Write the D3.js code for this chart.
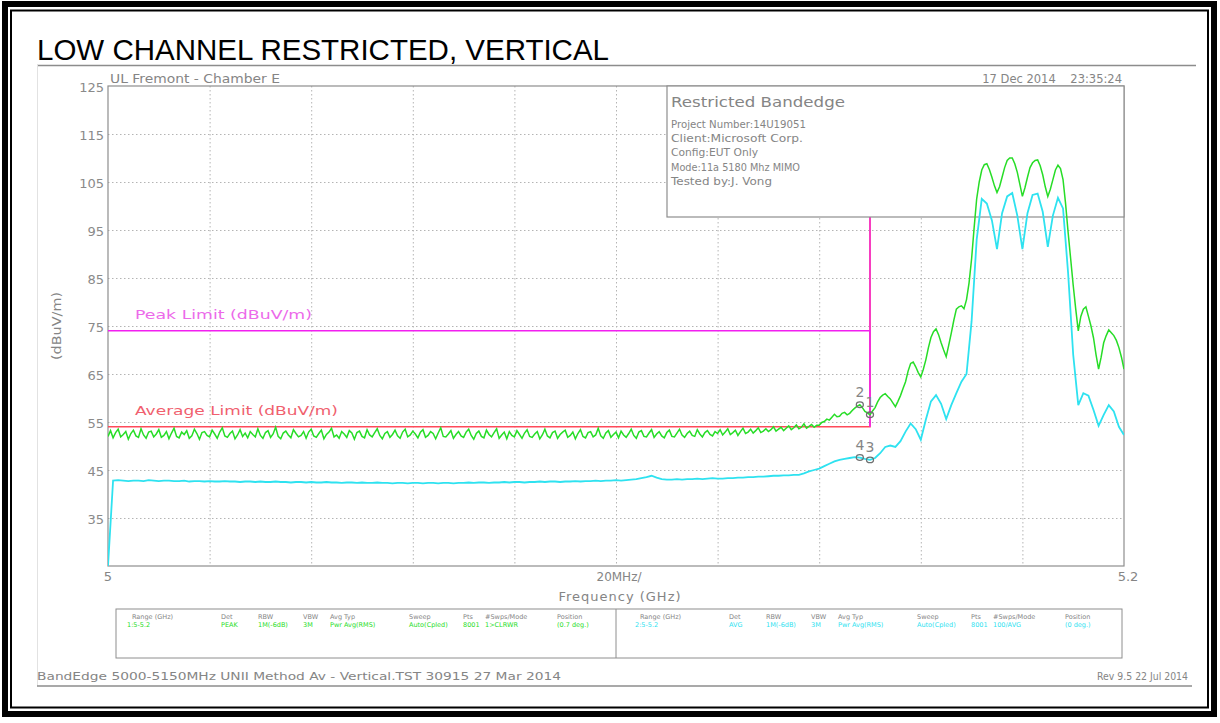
<!DOCTYPE html>
<html lang="en">
<head>
<meta charset="UTF-8" />
<title>Low Channel Restricted, Vertical</title>
<script src="https://cdn.jsdelivr.net/npm/d3@7"></script>
<style>
  body { margin: 0; background: #fff; }
  svg { display: block; }
  .sa { font-family: "DejaVu Sans", sans-serif; fill: #858585; }
  .grid line { stroke: #b4b4b4; stroke-dasharray: 1.5 2.5; }
  .grid path { display: none; }
  .ylab path, .ylab line { display: none; }
  .ylab text { font-family: "DejaVu Sans", sans-serif; font-size: 13px; fill: #8a8a8a; }
</style>
</head>
<body>
<div id="chart"></div>
<script>
// sweep: 5.000 - 5.200 GHz
const startMHz = 5000;
const stopMHz = 5200;
const peakStepMHz = 0.5;
const avgStepMHz = 1;

const yTicks = [125, 115, 105, 95, 85, 75, 65, 55, 45, 35];
const xGridMHz = [5020, 5040, 5060, 5080, 5100, 5120, 5140, 5160, 5180];
const xEndLabels = ["5", "5.2"];
const divLabel = "20MHz/";

const peakLimit = 74;
const avgLimit = 54;
const bandEdgeMHz = 5150;

// trace 1 (peak detector, green), one reading per 0.5 MHz
const peakTrace = [
  52.0, 53.2, 51.7, 52.8, 53.5, 51.9, 52.4, 53.0, 51.4, 52.6, 53.3, 52.1, 51.8, 53.6, 52.3, 51.6, 52.9, 53.1, 51.9, 52.5,
  53.4, 51.8, 52.2, 53.0, 51.5, 52.7, 53.7, 52.0, 51.7, 52.9, 52.4, 53.2, 51.6, 52.1, 53.5, 52.6, 51.4, 52.8, 53.0, 52.2,
  51.9, 53.3, 52.5, 51.6, 52.9, 53.8, 52.1, 51.8, 52.6, 53.1, 51.5, 52.3, 53.4, 52.0, 52.7, 51.7, 53.0, 52.4, 51.9, 53.6,
  52.2, 51.6, 52.8, 53.2, 51.8, 52.5, 53.9, 52.0, 51.5, 52.7, 53.1, 52.3, 51.7, 53.4, 52.6, 51.9, 52.2, 53.0, 51.6, 52.9,
  53.5, 52.1, 51.8, 52.6, 53.3, 51.5, 52.4, 52.9, 53.7, 51.9, 52.3, 51.6, 53.0, 52.5, 51.8, 53.2, 52.7, 51.4, 52.8, 53.1,
  52.0, 51.7, 53.4, 52.3, 51.9, 52.8, 53.6, 52.2, 51.5, 52.6, 53.0, 51.8, 52.4, 53.3, 52.1, 51.6, 52.9, 53.5, 51.9, 52.3,
  53.1, 52.5, 51.7, 52.9, 53.4, 51.8, 52.2, 53.0, 52.6, 51.5, 52.7, 53.8, 52.0, 51.9, 52.5, 53.2, 51.6, 52.4, 53.0, 52.1,
  51.8, 52.9, 53.5, 52.2, 51.4, 52.6, 53.1, 52.0, 51.7, 53.3, 52.4, 51.9, 52.8, 53.6, 51.6, 52.3, 52.9, 51.5, 53.0, 52.2,
  51.9, 53.2, 52.4, 51.6, 52.7, 53.4, 52.0, 51.8, 52.5, 53.0, 51.5, 52.3, 53.5, 52.1, 51.7, 52.8, 53.1, 51.6, 52.4, 52.9,
  53.3, 51.8, 52.2, 52.9, 51.5, 52.6, 53.4, 52.0, 51.7, 52.8, 53.0, 51.9, 52.3, 53.7, 52.1, 51.6, 52.7, 53.2, 51.8, 52.4,
  52.9, 51.7, 53.1, 52.3, 51.8, 52.6, 53.5, 52.2, 51.6, 52.9, 53.2, 52.0, 51.9, 52.7, 53.4, 51.8, 52.5, 53.0, 52.1, 51.7,
  52.8, 53.3, 52.0, 51.9, 52.7, 53.5, 52.3, 51.8, 52.6, 53.1, 52.2, 52.0, 53.4, 52.5, 51.9, 52.8, 53.2, 52.4, 52.1, 53.0,
  52.6, 53.4, 52.3, 52.9, 53.6, 52.4, 52.8, 53.3, 52.2, 53.0, 53.7, 52.6, 52.9, 53.5, 52.7, 53.2, 53.8, 52.8, 53.1, 53.6,
  53.0, 53.4, 54.0, 53.1, 53.5, 53.9, 53.2, 53.7, 54.2, 53.4, 53.8, 54.4, 53.6, 53.9, 54.6, 53.7, 54.1, 54.5, 53.9, 54.3,
  54.3, 54.9, 55.1, 55.6, 55.4, 56.0, 56.6, 56.1, 56.2, 56.8, 57.0, 56.5, 56.8, 57.4, 57.9, 58.3, 58.6, 58.0, 57.2, 56.9,
  56.5, 57.3, 58.0, 59.2, 60.1, 60.6, 60.9, 60.3, 59.8, 59.0, 58.2, 59.3, 60.5, 62.0, 63.4, 65.6, 67.2, 67.5, 66.5, 65.3,
  64.4, 66.0, 68.0, 70.5, 72.6, 73.8, 74.4, 73.2, 71.5, 70.0, 68.6, 71.0, 73.5, 76.2, 78.5, 79.0, 79.2, 78.6, 80.5, 84.0,
  89.0, 95.5, 101.5, 105.0, 107.5, 108.6, 108.8, 107.6, 106.0, 104.2, 102.8, 104.0, 106.0, 108.0, 109.5, 110.0, 110.0, 108.8, 107.0, 104.5,
  102.0, 103.8, 106.0, 108.0, 109.0, 109.5, 109.6, 108.4, 106.5, 104.0, 102.0, 103.5, 105.5, 107.5, 108.5, 107.8, 105.5, 100.5, 94.5, 89.0,
  83.5, 78.5, 74.0, 77.0, 78.5, 79.0, 77.0, 75.0, 72.5, 69.0, 66.0, 68.5, 71.5, 73.0, 74.2, 73.6, 73.0, 72.0, 70.5, 68.5,
  66.0
];

// trace 2 (average detector, cyan), one reading per MHz
const avgTrace = [
  25.0, 42.8, 42.9, 42.8, 42.7, 42.8, 42.8, 42.7, 42.9, 42.8,
  42.7, 42.8, 42.8, 42.7, 42.7, 42.8, 42.6, 42.7, 42.7, 42.6,
  42.7, 42.6, 42.6, 42.7, 42.6, 42.6, 42.5, 42.6, 42.6, 42.5,
  42.6, 42.5, 42.5, 42.6, 42.5, 42.5, 42.4, 42.5, 42.5, 42.4,
  42.5, 42.4, 42.4, 42.5, 42.4, 42.4, 42.3, 42.4, 42.4, 42.3,
  42.4, 42.3, 42.3, 42.4, 42.3, 42.3, 42.2, 42.3, 42.3, 42.2,
  42.3, 42.3, 42.2, 42.3, 42.3, 42.2, 42.3, 42.3, 42.2, 42.3,
  42.3, 42.4, 42.3, 42.4, 42.4, 42.3, 42.4, 42.4, 42.5, 42.4,
  42.5, 42.5, 42.4, 42.5, 42.5, 42.6, 42.5, 42.6, 42.6, 42.5,
  42.6, 42.6, 42.7, 42.6, 42.7, 42.7, 42.8, 42.7, 42.8, 42.8,
  42.9, 42.8, 42.9, 43.0, 43.1, 43.3, 43.5, 43.8, 43.4, 43.1,
  43.0, 43.0, 43.1, 43.0, 43.1, 43.1, 43.2, 43.1, 43.2, 43.3,
  43.2, 43.2, 43.3, 43.3, 43.4, 43.4, 43.5, 43.5, 43.6, 43.6,
  43.7, 43.8, 43.8, 43.9, 43.9, 44.0, 44.0, 44.3, 44.7, 45.0,
  45.3, 45.8, 46.3, 46.8, 47.1, 47.3, 47.5, 47.7, 47.6, 47.3,
  47.1, 47.5, 48.5, 49.8, 50.1, 49.8, 51.0, 53.0, 54.7, 53.5,
  51.3, 55.5, 59.3, 60.6, 58.8, 55.6, 58.5, 61.0, 63.4, 65.0,
  76.0, 93.0, 101.5, 100.5, 97.0, 91.0, 98.5, 102.0, 102.7, 98.0,
  91.0, 98.5, 102.3, 102.6, 98.8, 91.5, 98.0, 101.7, 99.5, 86.0,
  69.0, 58.5, 61.0, 60.5, 57.5, 54.2, 56.5, 58.5, 57.2, 54.0,
  52.3
];

const markers = [
  { label: "1", mhz: 5150, trace: "peak" },
  { label: "2", mhz: 5148, trace: "peak" },
  { label: "3", mhz: 5150, trace: "avg" },
  { label: "4", mhz: 5148, trace: "avg" }
];

const infoTitle = "Restricted Bandedge";
const infoLines = [
  "Project Number:14U19051",
  "Client:Microsoft Corp.",
  "Config:EUT Only",
  "Mode:11a 5180 Mhz MIMO",
  "Tested by:J. Vong"
];

const tableHead = ["Range (GHz)", "Det", "RBW", "VBW", "Avg Typ", "Sweep", "Pts", "#Swps/Mode", "Position"];
const tableTrace1 = ["1:5-5.2", "PEAK", "1M(-6dB)", "3M", "Pwr Avg(RMS)", "Auto(Cpled)", "8001", "1>CLRWR", "(0.7 deg.)"];
const tableTrace2 = ["2:5-5.2", "AVG", "1M(-6dB)", "3M", "Pwr Avg(RMS)", "Auto(Cpled)", "8001", "100/AVG", "(0 deg.)"];

// ---------------------------------------------------------------
const W = 1220, H = 723;
const plot = { left: 108, right: 1124, top: 86, bottom: 566 };
const green = "#27dd27", cyan = "#2ee2f0", magenta = "#f21ff0", red = "#ff4a5a";

const svg = d3.select("#chart").append("svg")
  .attr("width", W).attr("height", H);

// double frame
svg.append("rect").attr("x", 5).attr("y", 4).attr("width", 1209).attr("height", 710)
  .attr("fill", "none").attr("stroke", "#000").attr("stroke-width", 6);
svg.append("rect").attr("x", 11).attr("y", 10.5).attr("width", 1197).attr("height", 697)
  .attr("fill", "none").attr("stroke", "#000").attr("stroke-width", 2);

svg.append("text")
  .attr("x", 37).attr("y", 60)
  .attr("textLength", 572).attr("lengthAdjust", "spacingAndGlyphs")
  .style("font-family", "'Liberation Sans', Arial, sans-serif")
  .style("font-size", "30px").attr("fill", "#000")
  .text("LOW CHANNEL RESTRICTED, VERTICAL");

// screenshot edges
svg.append("line").attr("x1", 37).attr("x2", 1196).attr("y1", 65.5).attr("y2", 65.5)
  .attr("stroke", "#8c8c8c").attr("stroke-width", 1.5);
svg.append("line").attr("x1", 37.5).attr("x2", 37.5).attr("y1", 65).attr("y2", 686)
  .attr("stroke", "#e2e2e2");
svg.append("line").attr("x1", 37).attr("x2", 1192).attr("y1", 686).attr("y2", 686)
  .attr("stroke", "#8c8c8c").attr("stroke-width", 1.5);

const x = d3.scaleLinear().domain([startMHz, stopMHz]).range([plot.left, plot.right]);
const y = d3.scaleLinear().domain([25, 125]).range([plot.bottom, plot.top]);
const plotW = plot.right - plot.left, plotH = plot.bottom - plot.top;

// graticule
svg.append("g").attr("class", "grid")
  .attr("transform", `translate(${plot.left},0)`)
  .call(d3.axisLeft(y).tickValues(yTicks.slice(1)).tickSize(-plotW).tickFormat(""));
svg.append("g").attr("class", "grid")
  .attr("transform", `translate(0,${plot.top})`)
  .call(d3.axisBottom(x).tickValues(xGridMHz).tickSize(plotH).tickFormat(""));

svg.append("rect")
  .attr("x", plot.left).attr("y", plot.top).attr("width", plotW).attr("height", plotH)
  .attr("fill", "none").attr("stroke", "#8e8e8e").attr("stroke-width", 1.2);

// y labels
const ylab = svg.append("g").attr("class", "ylab")
  .attr("transform", `translate(${plot.left},0)`)
  .call(d3.axisLeft(y).tickValues(yTicks).tickSize(0).tickPadding(4).tickFormat(d3.format("d")));
ylab.selectAll("text").attr("dy", "0.45em");

svg.append("text").attr("class", "sa")
  .attr("transform", `translate(61,326) rotate(-90)`)
  .attr("text-anchor", "middle").attr("textLength", 68).attr("lengthAdjust", "spacingAndGlyphs")
  .style("font-size", "11.5px")
  .text("(dBuV/m)");

svg.append("text").attr("class", "sa").attr("x", 110).attr("y", 83)
  .attr("textLength", 170).attr("lengthAdjust", "spacingAndGlyphs")
  .style("font-size", "11.5px").text("UL Fremont - Chamber E");
svg.append("text").attr("class", "sa").attr("x", 1122).attr("y", 83)
  .attr("text-anchor", "end").style("font-size", "11.5px").style("white-space", "pre")
  .text("17 Dec 2014    23:35:24");

// x labels
svg.append("text").attr("class", "sa").attr("x", x(startMHz)).attr("y", 581)
  .attr("text-anchor", "middle").style("font-size", "13px").text(xEndLabels[0]);
svg.append("text").attr("class", "sa").attr("x", x(stopMHz) + 4).attr("y", 581)
  .attr("text-anchor", "middle").style("font-size", "13px").text(xEndLabels[1]);
svg.append("text").attr("class", "sa").attr("x", x((startMHz + stopMHz) / 2) + 3).attr("y", 581)
  .attr("text-anchor", "middle").style("font-size", "12px").text(divLabel);
svg.append("text").attr("class", "sa").attr("x", x((startMHz + stopMHz) / 2) + 4).attr("y", 601)
  .attr("text-anchor", "middle").style("font-size", "13px").attr("letter-spacing", 1)
  .text("Frequency (GHz)");

// limit lines
const limits = svg.append("g");
limits.append("path")
  .attr("d", d3.line()([[x(startMHz), y(avgLimit)], [x(bandEdgeMHz), y(avgLimit)], [x(bandEdgeMHz), y(125)]]))
  .attr("fill", "none").attr("stroke", red).attr("stroke-width", 1.6);
limits.append("path")
  .attr("d", d3.line()([[x(startMHz), y(peakLimit)], [x(bandEdgeMHz), y(peakLimit)], [x(bandEdgeMHz), y(avgLimit)]]))
  .attr("fill", "none").attr("stroke", magenta).attr("stroke-width", 1.6);
limits.append("line")
  .attr("x1", x(bandEdgeMHz)).attr("x2", x(bandEdgeMHz)).attr("y1", y(125)).attr("y2", y(peakLimit))
  .attr("stroke", magenta).attr("stroke-width", 1.2);
limits.append("text").attr("x", 135).attr("y", y(peakLimit) - 12)
  .attr("textLength", 177).attr("lengthAdjust", "spacingAndGlyphs")
  .style("font-family", "'DejaVu Sans', sans-serif").style("font-size", "12.5px")
  .attr("fill", "#ec6aea").text("Peak Limit (dBuV/m)");
limits.append("text").attr("x", 135).attr("y", y(avgLimit) - 12)
  .attr("textLength", 203).attr("lengthAdjust", "spacingAndGlyphs")
  .style("font-family", "'DejaVu Sans', sans-serif").style("font-size", "12.5px")
  .attr("fill", "#f0606e").text("Average Limit (dBuV/m)");

// annotation box
const box = svg.append("g");
box.append("rect").attr("x", 667).attr("y", plot.top).attr("width", plot.right - 667).attr("height", 131)
  .attr("fill", "#fff").attr("stroke", "#8e8e8e").attr("stroke-width", 1.2);
box.append("text").attr("class", "sa").attr("x", 671).attr("y", 107)
  .attr("textLength", 174).attr("lengthAdjust", "spacingAndGlyphs")
  .style("font-size", "14px").text(infoTitle);
const infoW = [135, 132, 87, 129, 101];
box.selectAll("text.line").data(infoLines).enter().append("text")
  .attr("class", "sa line").attr("x", 671).attr("y", (d, i) => 128 + i * 14.2)
  .attr("textLength", (d, i) => infoW[i]).attr("lengthAdjust", "spacingAndGlyphs")
  .style("font-size", "11px").text(d => d);

// traces
svg.append("clipPath").attr("id", "clip").append("rect")
  .attr("x", plot.left).attr("y", plot.top).attr("width", plotW).attr("height", plotH);
const lineFor = step => d3.line().x((d, i) => x(startMHz + i * step)).y(d => y(d));
svg.append("path").datum(avgTrace).attr("clip-path", "url(#clip)")
  .attr("d", lineFor(avgStepMHz)).attr("fill", "none").attr("stroke", cyan).attr("stroke-width", 1.8);
svg.append("path").datum(peakTrace).attr("clip-path", "url(#clip)")
  .attr("d", lineFor(peakStepMHz)).attr("fill", "none").attr("stroke", green).attr("stroke-width", 1.5);

// markers
const traces = {
  peak: { vals: peakTrace, step: peakStepMHz },
  avg: { vals: avgTrace, step: avgStepMHz }
};
const mk = svg.append("g");
markers.forEach(m => {
  const t = traces[m.trace];
  const v = t.vals[Math.round((m.mhz - startMHz) / t.step)];
  const mx = x(m.mhz), my = y(v);
  mk.append("ellipse").attr("cx", mx).attr("cy", my).attr("rx", 3.5).attr("ry", 2.8)
    .attr("fill", "none").attr("stroke", "#707070").attr("stroke-width", 1.3);
  mk.append("text").attr("class", "sa").attr("x", mx).attr("y", my - 8)
    .attr("text-anchor", "middle").style("font-size", "14px").attr("fill", "#707070")
    .text(m.label);
});

// settings table
const tbl = svg.append("g");
tbl.append("rect").attr("x", 116).attr("y", 609).attr("width", 1006).attr("height", 49)
  .attr("fill", "none").attr("stroke", "#8e8e8e").attr("stroke-width", 1);
tbl.append("line").attr("x1", 616).attr("x2", 616).attr("y1", 609).attr("y2", 658)
  .attr("stroke", "#8e8e8e");
const colX = [132, 221, 258, 303, 330, 409, 463, 485, 557];
[[tableTrace1, green, 0], [tableTrace2, cyan, 508]].forEach(([vals, col, off]) => {
  tbl.selectAll(null).data(tableHead).enter().append("text")
    .attr("class", "sa").attr("x", (d, i) => colX[i] + off).attr("y", 619)
    .style("font-size", "6.5px").attr("fill", "#777").text(d => d);
  tbl.selectAll(null).data(vals).enter().append("text")
    .attr("x", (d, i) => colX[i] + off - (i === 0 ? 5 : 0)).attr("y", 627)
    .style("font-family", "'DejaVu Sans', sans-serif").style("font-size", "6.5px")
    .attr("fill", col).text(d => d);
});

// footer
svg.append("text").attr("class", "sa").attr("x", 37).attr("y", 680)
  .attr("textLength", 524).attr("lengthAdjust", "spacingAndGlyphs")
  .style("font-size", "11px").attr("fill", "#6a6a6a")
  .text("BandEdge 5000-5150MHz UNII Method Av - Vertical.TST 30915 27 Mar 2014");
svg.append("text").attr("class", "sa").attr("x", 1188).attr("y", 680)
  .attr("text-anchor", "end").attr("textLength", 91).attr("lengthAdjust", "spacingAndGlyphs")
  .style("font-size", "11px").attr("fill", "#6a6a6a")
  .text("Rev 9.5 22 Jul 2014");
</script>
</body>
</html>
